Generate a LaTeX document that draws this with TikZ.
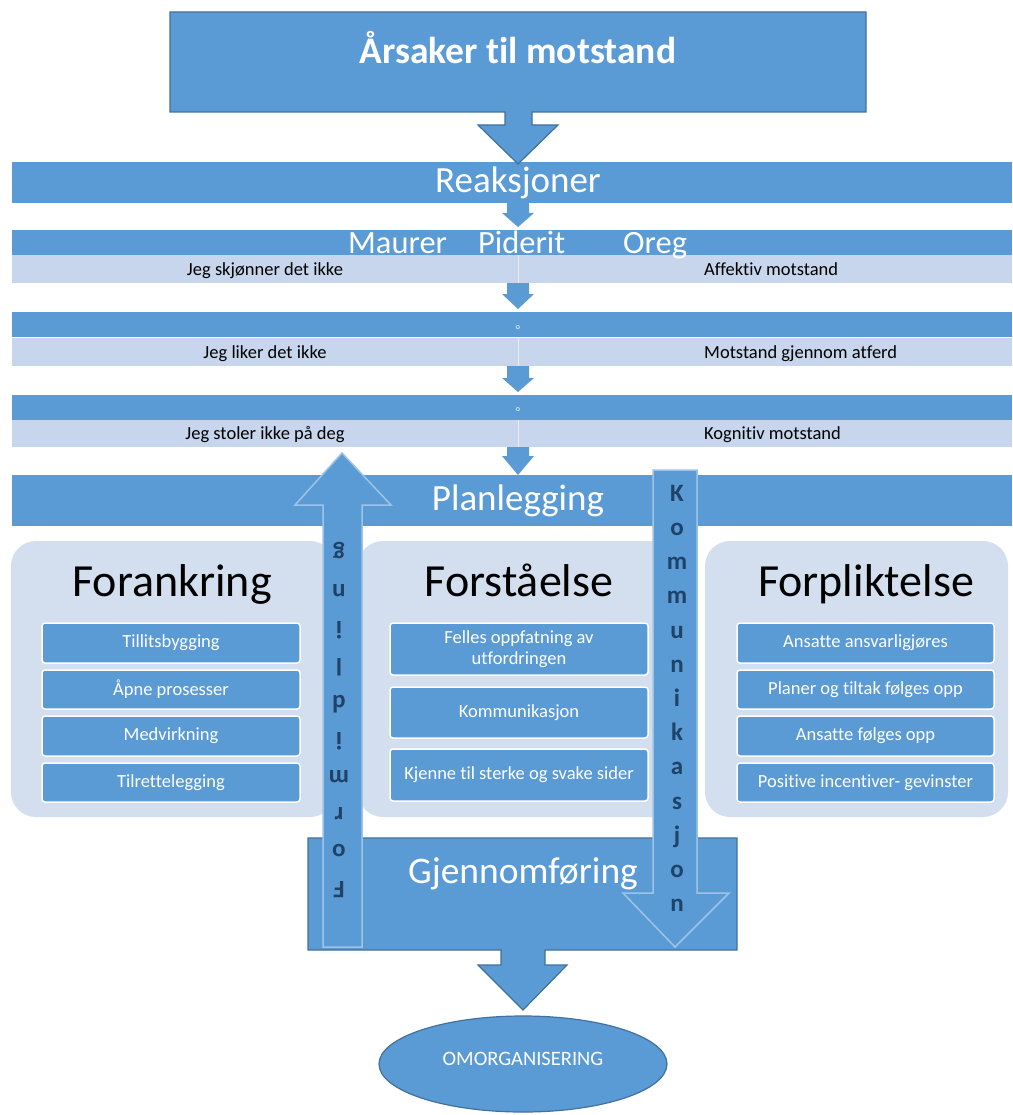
\documentclass[tikz,border=0pt]{standalone}
\usepackage{fontspec}
\setmainfont[Ligatures=CommonOff]{Carlito}
\usetikzlibrary{calc}

\definecolor{mainblue}{HTML}{5B9BD5}
\definecolor{edgeblue}{HTML}{41719C}
\definecolor{rowblue}{HTML}{C7D6EC}
\definecolor{panelblue}{HTML}{D3DEEF}
\definecolor{lightedge}{HTML}{9DC3E6}
\definecolor{letterblue}{HTML}{1F4268}

\newcommand{\fs}[1]{\fontsize{#1}{#1}\selectfont}

\tikzset{
  band/.style={fill=mainblue},
  row/.style={fill=rowblue},
  panel/.style={fill=panelblue, rounded corners=25pt},
  itembox/.style={fill=mainblue, draw=white, line width=1.5pt, rounded corners=3pt},
  callout/.style={fill=mainblue, draw=edgeblue, line width=1.2pt},
  flowarrow/.style={fill=mainblue},
  bigarrow/.style={fill=mainblue, draw=lightedge, line width=1.5pt},
  txt/.style={inner sep=0pt, anchor=base},
  wtxt/.style={txt, text=white},
  itemtxt/.style={inner sep=0pt, text=white, font=\fs{18.5}},
  rowtxt/.style={txt, font=\fs{18.5}},
  letter/.style={inner sep=0pt, text=letterblue, font=\bfseries\fs{25}, text height=1.4ex, text depth=0pt}
}

\begin{document}
\begin{tikzpicture}[x=1pt, y=-1pt]
\useasboundingbox (0,0) rectangle (1012,1115);
\fill[white] (0,0) rectangle (1012,1115);

% reactions band
\fill[band] (12,162) rectangle (1012,203);

% title box with its down arrow
\draw[callout] (170,12) -- (866,12) -- (866,112) -- (532,112) -- (532,125) -- (558,125)
  -- (518,164) -- (478,125) -- (505,125) -- (505,112) -- (170,112) -- cycle;
\node[wtxt, font=\bfseries\fs{37.5}] (title) at (518,64) {Årsaker til motstand};
\node[wtxt, font=\fs{37}] (reak) at (518,193) {Reaksjoner};

% three rows of reactions
\foreach \top/\n in {230/1, 312/2, 395/3} {
  \fill[band] (12,\top) rectangle (1012,\top+25);
}
\fill[row] (12,255) rectangle (1012,283);
\fill[row] (12,338) rectangle (1012,366);
\fill[row] (12,420) rectangle (1012,447);
\foreach \a/\b in {255/283, 338/366, 420/447}
  \draw[white, opacity=0.6, line width=0.8pt] (518,\a) -- (518,\b);

\node[wtxt, anchor=base west, font=\fs{32.5}] (authors) at (348,253)
  {Maurer\hspace{31pt}Piderit\hspace{58pt}Oreg};
\node[wtxt, font=\fs{8}] (dot1) at (518,329) {o};
\node[wtxt, font=\fs{8}] (dot2) at (518,411) {o};

\node[rowtxt] (r1l) at (265,275) {Jeg skjønner det ikke};
\node[rowtxt] (r2l) at (265,358) {Jeg liker det ikke};
\node[rowtxt] (r3l) at (265,439.5) {Jeg stoler ikke på deg};
\node[rowtxt, anchor=base west] (r1r) at (704,275) {Affektiv motstand};
\node[rowtxt, anchor=base west] (r2r) at (704,358) {Motstand gjennom atferd};
\node[rowtxt, anchor=base west] (r3r) at (704,439.5) {Kognitiv motstand};

% small down arrows between the bands
\foreach \s/\h/\t in {203/213/227, 283/294/309, 366/378/392, 447/456/475} {
  \fill[flowarrow] (507,\s) -- (529,\s) -- (529,\h) -- (534,\h) -- (518,\t)
    -- (502,\h) -- (507,\h) -- cycle;
}

% planning band
\fill[band] (12,475) rectangle (1012,526);
\node[wtxt, font=\fs{37}] (plan) at (518,510) {Planlegging};

% three panels
\fill[panel] (11,541) rectangle (335,817);
\fill[panel] (358,541) rectangle (678,817);
\fill[panel] (705,541) rectangle (1008,817);
\node[txt, font=\fs{46}] (forank) at (172,596) {Forankring};
\node[txt, font=\fs{46}] (forst) at (519,596) {Forståelse};
\node[txt, font=\fs{46}] (forpl) at (866,596) {Forpliktelse};

% items of the left and right panels
\foreach \a/\b [count=\i] in {623/663, 670/709, 716/756, 763/802} {
  \draw[itembox] (42,\a) rectangle (300,\b);
  \draw[itembox] (737,\a) rectangle (994,\b);
}
\node[itemtxt] (l1) at (171,643) {Tillitsbygging};
\node[itemtxt] (l2) at (171,689.5) {Åpne prosesser};
\node[itemtxt] (l3) at (171,736) {Medvirkning};
\node[itemtxt] (l4) at (171,782.5) {Tilrettelegging};
\node[itemtxt] (p1) at (865.5,643) {Ansatte ansvarligjøres};
\node[itemtxt] (p2) at (865.5,689.5) {Planer og tiltak følges opp};
\node[itemtxt] (p3) at (865.5,736) {Ansatte følges opp};
\node[itemtxt] (p4) at (865.5,782.5) {Positive incentiver- gevinster};

% items of the middle panel
\draw[itembox] (390,623) rectangle (648,675);
\draw[itembox] (390,687) rectangle (648,738);
\draw[itembox] (390,749) rectangle (648,801);
\node[itemtxt, align=center, font=\fontsize{18.5}{21}\selectfont] (m1) at (519,649)
  {Felles oppfatning av\\utfordringen};
\node[itemtxt] (m2) at (519,712.5) {Kommunikasjon};
\node[itemtxt] (m3) at (519,775) {Kjenne til sterke og svake sider};

% implementation box with its down arrow
\draw[callout] (308,838) -- (737,838) -- (737,950) -- (545,950) -- (545,965) -- (567,965)
  -- (523,1010) -- (478,965) -- (501,965) -- (501,950) -- (308,950) -- cycle;
\node[wtxt, font=\fs{37.5}] (gjen) at (523,883) {Gjennomføring};

% outcome
\draw[callout] (523,1064) ellipse [x radius=144, y radius=48];
\node[wtxt, font=\fs{20.5}] (omorg) at (523,1065) {OMORGANISERING};

% upward arrow: Formidling
\draw[bigarrow] (323,947) -- (323,505) -- (295,505) -- (342,453) -- (391,505)
  -- (362,505) -- (362,947) -- cycle;
\foreach \ch [count=\i from 0] in {F,o,r,m,i,d,l,i,n,g}
  \node[letter, rotate=180] (fm\i) at (339,{885-37.2*\i}) {\ch};

% downward arrow: Kommunikasjon
\draw[bigarrow] (653,470) -- (697,470) -- (697,893) -- (729,893) -- (675,947)
  -- (623,893) -- (653,893) -- cycle;
\foreach \ch [count=\i from 0] in {K,o,m,m,u,n,i,k,a,s,j,o,n}
  \node[letter] (km\i) at (677,{498+34.2*\i}) {\ch};

\end{tikzpicture}
\end{document}
